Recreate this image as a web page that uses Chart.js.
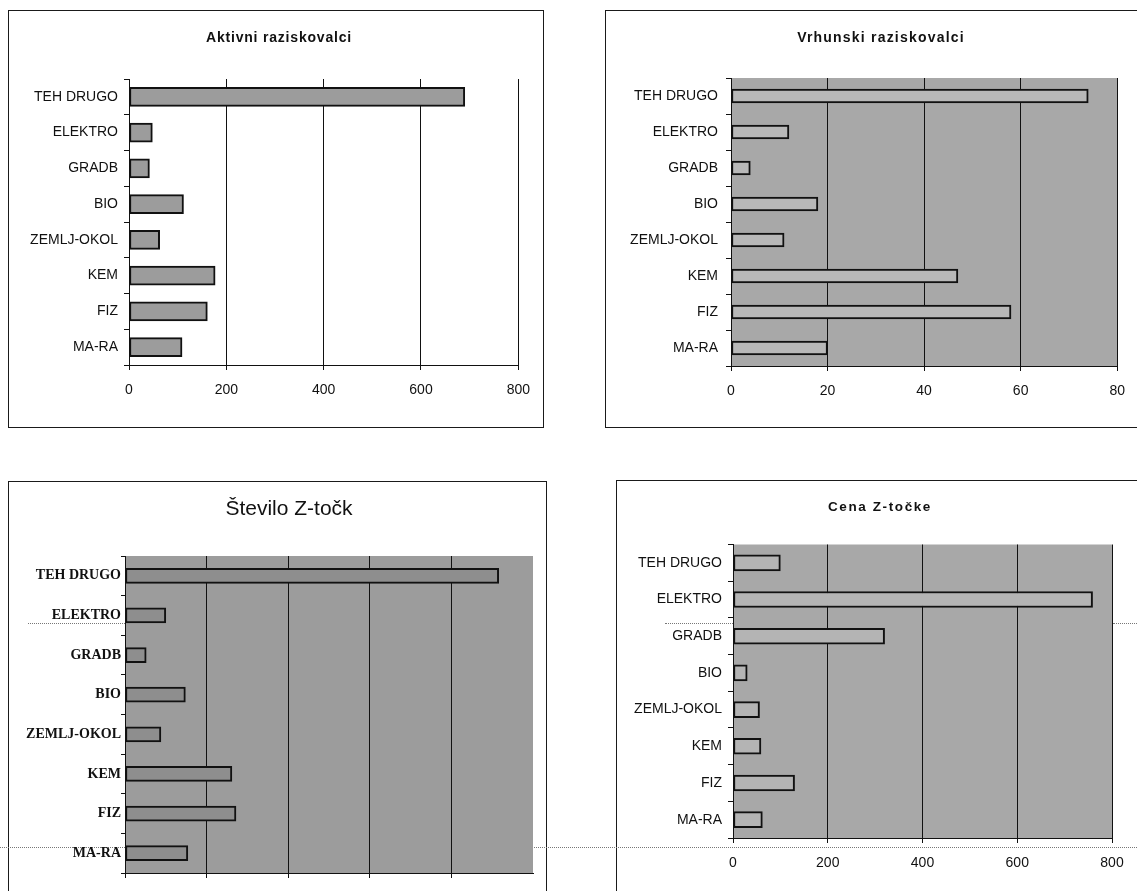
<!DOCTYPE html>
<html>
<head>
<meta charset="utf-8">
<script src="https://cdn.jsdelivr.net/npm/chart.js@4.4.0/dist/chart.umd.min.js"></script>
<style>
html,body{margin:0;padding:0;background:#fff;width:1137px;height:891px;overflow:hidden;position:relative;font-family:"Liberation Sans",Arial,sans-serif;}
.box{position:absolute;border:1px solid #1a1a1a;box-sizing:border-box;}
.dot{position:absolute;height:0;border-top:1px dotted #777;}
canvas{position:absolute;}
.title{position:absolute;transform:translate(-50%,-50%);white-space:nowrap;color:#111;}
</style>
</head>
<body>
<div class="box" style="left:8px;top:10px;width:536px;height:418px;"></div>
<div class="box" style="left:605px;top:10px;width:545px;height:418px;"></div>
<div class="box" style="left:8px;top:481px;width:539px;height:430px;"></div>
<div class="box" style="left:616px;top:480px;width:530px;height:430px;"></div>

<div class="dot" style="left:28px;top:623px;width:97px;"></div>
<div class="dot" style="left:665px;top:623px;width:68px;"></div>
<div class="dot" style="left:1113px;top:623px;width:24px;"></div>
<div class="dot" style="left:0px;top:847px;width:1137px;"></div>

<canvas id="c1" width="533" height="414" style="left:9px;top:11px;"></canvas>
<canvas id="c2" width="531" height="415" style="left:606px;top:11px;"></canvas>
<canvas id="c3" width="536" height="409" style="left:9px;top:482px;"></canvas>
<canvas id="c4" width="520" height="410" style="left:617px;top:481px;"></canvas>

<div class="title" style="left:279px;top:37px;font-weight:bold;font-size:14px;letter-spacing:0.8px;">Aktivni raziskovalci</div>
<div class="title" style="left:881px;top:37px;font-weight:bold;font-size:14px;letter-spacing:1.2px;">Vrhunski raziskovalci</div>
<div class="title" style="left:289px;top:508px;font-size:21px;">Število Z-točk</div>
<div class="title" style="left:880px;top:506px;font-weight:bold;font-size:13.5px;letter-spacing:1.6px;">Cena Z-točke</div>

<script>
// ---- data ----
const categories = ['TEH DRUGO', 'ELEKTRO', 'GRADB', 'BIO', 'ZEMLJ-OKOL', 'KEM', 'FIZ', 'MA-RA'];
const aktivniRaziskovalci = [690, 48, 42, 112, 63, 177, 161, 109];
const vrhunskiRaziskovalci = [74, 12, 4, 18, 11, 47, 58, 20];
const steviloZtock = [2290, 250, 130, 370, 220, 655, 680, 385];
const cenaZtocke = [100, 759, 320, 30, 56, 59, 130, 62];
const ticksAktivni = [0, 200, 400, 600, 800];
const ticksVrhunski = [0, 20, 40, 60, 80];
const ticksStevilo = [0, 500, 1000, 1500, 2000, 2500];
const ticksCena = [0, 200, 400, 600, 800];

const plotBg = {
  id: 'plotBg',
  beforeDraw(chart, args, opts) {
    if (!opts.color) return;
    const a = chart.chartArea, ctx = chart.ctx;
    ctx.save();
    ctx.fillStyle = opts.color;
    ctx.fillRect(a.left, a.top, a.right - a.left, a.bottom - a.top);
    ctx.restore();
  }
};

function makeChart(id, values, tickVals, cfg) {
  const max = tickVals[tickVals.length - 1];
  const step = tickVals[1] - tickVals[0];
  return new Chart(document.getElementById(id), {
    type: 'bar',
    data: {
      labels: categories,
      datasets: [{
        data: values,
        backgroundColor: cfg.barColor,
        borderColor: '#111',
        borderWidth: 2,
        borderSkipped: false,
        barThickness: cfg.barThickness
      }]
    },
    plugins: [plotBg],
    options: {
      indexAxis: 'y',
      responsive: false,
      animation: false,
      devicePixelRatio: 1,
      layout: { padding: { left: 0, top: cfg.top, right: cfg.right, bottom: 0 } },
      plugins: {
        legend: { display: false },
        tooltip: { enabled: false },
        title: { display: false },
        plotBg: { color: cfg.bg }
      },
      scales: {
        x: {
          min: 0, max: max,
          afterFit(s) { s.height = cfg.xH; },
          ticks: {
            stepSize: step,
            display: cfg.showX,
            color: '#111',
            padding: 12,
            maxRotation: 0,
            font: { family: '"Liberation Sans", Arial, sans-serif', size: 14 }
          },
          grid: {
            color: (c) => (cfg.hideLastGrid && c.tick && c.tick.value === max) ? 'rgba(0,0,0,0)' : '#111',
            lineWidth: 1,
            drawTicks: true,
            tickLength: 5
          },
          border: { display: true, color: '#111', width: 1 }
        },
        y: {
          afterFit(s) { s.width = cfg.yW; },
          ticks: {
            color: '#111',
            padding: cfg.yPad,
            font: cfg.yFont
          },
          grid: {
            drawOnChartArea: false,
            drawTicks: true,
            tickLength: cfg.yTick,
            tickColor: '#111',
            color: '#111'
          },
          border: { display: true, color: '#111', width: 1 }
        }
      }
    }
  });
}

const sansFont = { family: '"Liberation Sans", Arial, sans-serif', size: 14 };
const serifFont = { family: '"Liberation Serif", "Times New Roman", serif', size: 14, weight: 'bold' };

makeChart('c1', aktivniRaziskovalci, ticksAktivni, {
  barColor: '#9c9c9c', bg: null, barThickness: 19,
  top: 68, right: 21, yW: 120, xH: 60, yPad: 6, yTick: 5, yFont: sansFont, showX: true
});
makeChart('c2', vrhunskiRaziskovalci, ticksVrhunski, {
  barColor: '#b8b8b8', bg: '#a8a8a8', barThickness: 14,
  top: 67, right: 16, yW: 125, xH: 60, yPad: 8, yTick: 5, yFont: sansFont, showX: true
});
makeChart('c3', steviloZtock, ticksStevilo, {
  barColor: '#8e8e8e', bg: '#9c9c9c', barThickness: 15, hideLastGrid: true,
  top: 74, right: 12, yW: 116, xH: 18, yPad: 0, yTick: 4, yFont: serifFont, showX: false
});
makeChart('c4', cenaZtocke, ticksCena, {
  barColor: '#b4b4b4', bg: '#a8a8a8', barThickness: 16,
  top: 63.5, right: 25, yW: 116, xH: 53, yPad: 6, yTick: 5, yFont: sansFont, showX: true
});
</script>
</body>
</html>
